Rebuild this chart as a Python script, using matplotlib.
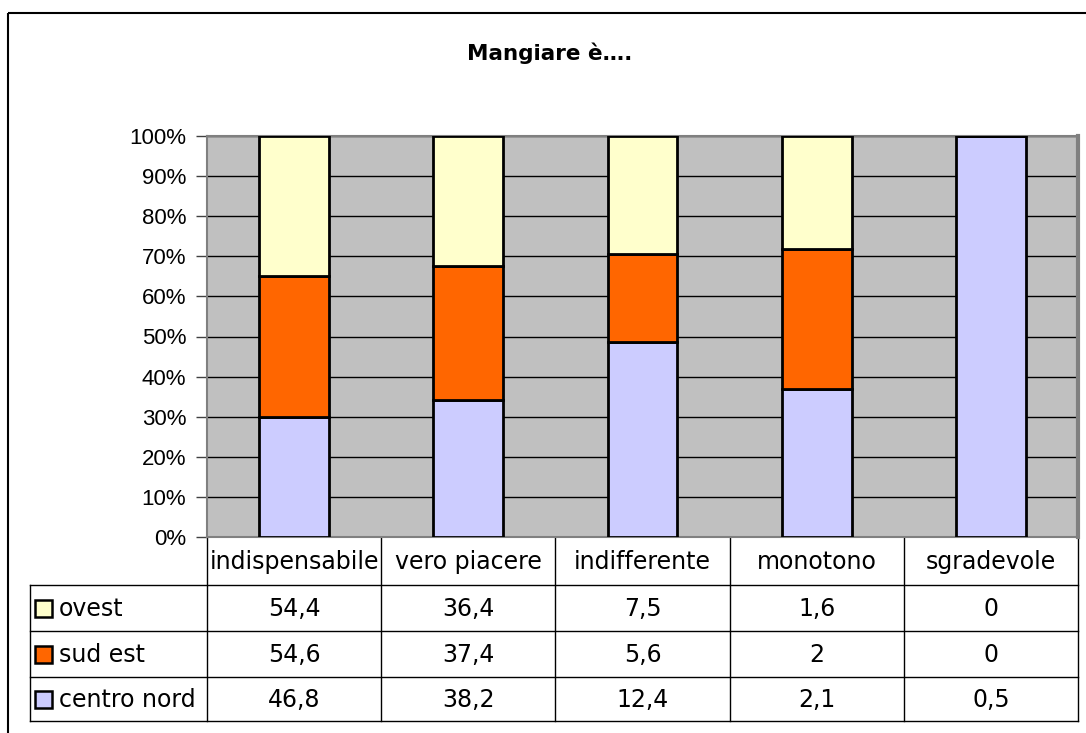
import matplotlib
matplotlib.use("Agg")
import matplotlib.pyplot as plt
import numpy as np
from matplotlib.ticker import FuncFormatter
from matplotlib.patches import Rectangle

categories = ["indispensabile", "vero piacere", "indifferente", "monotono", "sgradevole"]
series_names = ["ovest", "sud est", "centro nord"]
ovest = [54.4, 36.4, 7.5, 1.6, 0]
sud_est = [54.6, 37.4, 5.6, 2, 0]
centro_nord = [46.8, 38.2, 12.4, 2.1, 0.5]
colors = {"ovest": "#FFFFCC", "sud est": "#FF6600", "centro nord": "#CCCCFF"}
title = "Mangiare è…."

W, H = 1086, 733
fig = plt.figure(figsize=(W / 100, H / 100), dpi=100)
fig.patch.set_facecolor("white")

# overlay axes in pixel coordinates for frame and table
ov = fig.add_axes([0, 0, 1, 1], zorder=0)
ov.set_xlim(0, W)
ov.set_ylim(H, 0)
ov.axis("off")
ov.add_patch(Rectangle((8, 13), W + 20, H + 20, fill=False, ec="black", lw=1.5))

# main plot
L, R, T, B = 207, 1078, 136, 537
ax = fig.add_axes([L / W, 1 - B / H, (R - L) / W, (B - T) / H], zorder=2)
ax.set_facecolor("#C0C0C0")

vals = np.array([centro_nord, sud_est, ovest])  # bottom to top
names_stack = ["centro nord", "sud est", "ovest"]
totals = vals.sum(axis=0)
shares = vals / totals * 100
x = np.arange(len(categories))
bottom = np.zeros(len(categories))
for name, s in zip(names_stack, shares):
    ax.bar(x, s, 0.4, bottom=bottom, color=colors[name], edgecolor="black",
           linewidth=2, zorder=3)
    bottom += s

ax.set_xlim(-0.5, len(categories) - 0.5)
ax.set_ylim(0, 100)
ax.set_yticks(np.arange(0, 101, 10))
ax.yaxis.set_major_formatter(FuncFormatter(lambda v, p: f"{int(v)}%"))
ax.set_xticks([])
ax.grid(axis="y", color="black", linewidth=1, zorder=1)
ax.set_axisbelow(True)
for s in ["left", "top", "bottom"]:
    ax.spines[s].set_color("#808080")
    ax.spines[s].set_linewidth(1.5)
ax.spines["right"].set_color("#808080")
ax.spines["right"].set_linewidth(3)
ax.tick_params(axis="y", length=8, width=1, color="#404040", pad=7)
for lab in ax.get_yticklabels():
    lab.set_family(["Liberation Sans", "DejaVu Sans"])
    lab.set_fontsize(16)

fig.text(550 / W, 1 - 53 / H, title, ha="center", va="center",
         fontsize=15.5, fontweight="bold", family=["DejaVu Sans"])

# data table
col_w = (R - L) / len(categories)
col_edges = [L + i * col_w for i in range(len(categories) + 1)]
row_edges = [B, 585, 631, 677, 721]
tl = 30
lc = "black"
lw = 1
for xe in col_edges:
    ov.plot([xe, xe], [B, row_edges[-1]], color=lc, lw=lw)
ov.plot([tl, tl], [row_edges[1], row_edges[-1]], color=lc, lw=lw)
for ye in row_edges[1:]:
    ov.plot([tl, col_edges[-1]], [ye, ye], color=lc, lw=lw)
tfont = dict(fontsize=17, family=["DejaVu Sans"])
for i, c in enumerate(categories):
    ov.text((col_edges[i] + col_edges[i + 1]) / 2, (row_edges[0] + row_edges[1]) / 2 + 1,
            c, ha="center", va="center", **tfont)

rows = [("ovest", ovest), ("sud est", sud_est), ("centro nord", centro_nord)]
for r, (name, data) in enumerate(rows):
    yc = (row_edges[r + 1] + row_edges[r + 2]) / 2
    ov.add_patch(Rectangle((35, yc - 8), 17, 17, facecolor=colors[name],
                           edgecolor="black", lw=1.8))
    ov.text(59, yc + 1, name, ha="left", va="center", **tfont)
    for i, v in enumerate(data):
        s = f"{v:g}".replace(".", ",")
        ov.text((col_edges[i] + col_edges[i + 1]) / 2, yc + 1, s,
                ha="center", va="center", **tfont)

fig.savefig("out.png", dpi=100)
